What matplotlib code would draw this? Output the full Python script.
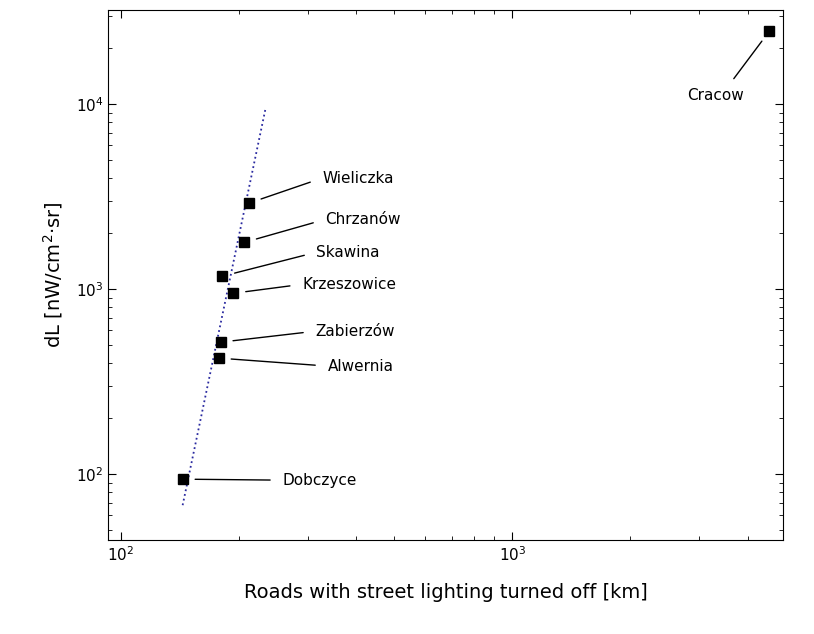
import matplotlib
matplotlib.use("Agg")
import matplotlib.pyplot as plt

names = ["Cracow", "Wieliczka", "Chrzanów", "Skawina", "Krzeszowice", "Zabierzów", "Alwernia", "Dobczyce"]
roads_km = [4530, 213, 207, 182, 194, 180, 178, 144]
dL = [24800, 2920, 1790, 1175, 950, 517, 424, 94]
fit_x = [144, 234]
fit_y = [68, 9300]

offsets = {"Cracow": (-54, -57), "Wieliczka": (73, 25), "Chrzanów": (81, 23), "Skawina": (94, 24),
           "Krzeszowice": (69, 9), "Zabierzów": (95, 11), "Alwernia": (109, -8), "Dobczyce": (100, -1)}

fig = plt.figure(figsize=(8.14, 6.34), dpi=100)
ax = fig.add_axes([0.133, 0.148, 0.829, 0.836])
ax.set_xscale("log"); ax.set_yscale("log")
ax.set_xlim(93, 4910); ax.set_ylim(44, 32200)
ax.plot(fit_x, fit_y, ls=":", color="#2a2aa0", lw=1.3)
ax.plot(roads_km, dL, "s", color="black", ms=6.5, ls="none")
for n, x, y in zip(names, roads_km, dL):
    dx, dy = offsets[n]
    if n == "Cracow":
        ax.annotate(n, (x, y), xytext=(dx, dy), textcoords="offset pixels", ha="center", va="top", fontsize=11,
                    arrowprops=dict(arrowstyle="-", lw=1, color="black", relpos=(0.7, 1.0), shrinkA=6, shrinkB=9))
    else:
        ax.annotate(n, (x, y), xytext=(dx, dy), textcoords="offset pixels", ha="left", va="center", fontsize=11,
                    arrowprops=dict(arrowstyle="-", lw=1, color="black", relpos=(0, 0.5), shrinkA=7, shrinkB=9))
ax.tick_params(which="both", direction="in", top=True, right=True, labelsize=11)
ax.tick_params(which="major", length=6)
ax.tick_params(which="minor", length=3)
ax.set_xlabel("Roads with street lighting turned off [km]", fontsize=14, labelpad=14)
ax.set_ylabel("dL [nW/cm$^2$·sr]", fontsize=14, labelpad=8)
fig.savefig("out.png", dpi=100)
